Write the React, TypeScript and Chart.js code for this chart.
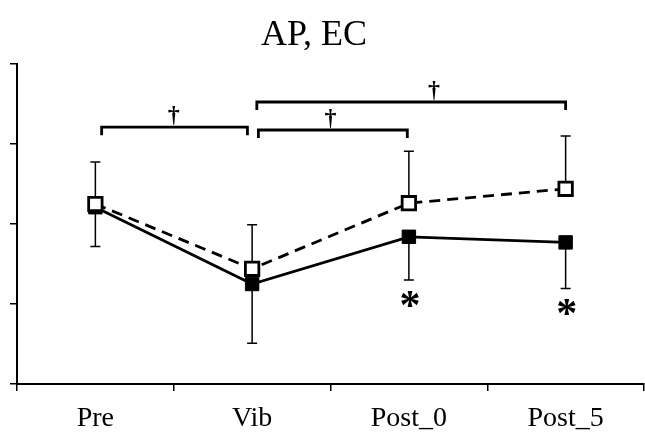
import React, { useEffect, useRef } from "react";
import { Chart, registerables } from "chart.js";

Chart.register(...registerables);

const categories = ["Pre", "Vib", "Post_0", "Post_5"];
const openValues = [2.25, 1.44, 2.26, 2.44];
const filledValues = [2.21, 1.25, 1.84, 1.77];
const openErrorUp = [0.525, 0.55, 0.65, 0.66];
const filledErrorDown = [0.49, 0.74, 0.54, 0.575];
const yTicks = [0, 1, 2, 3, 4];

// significance brackets (category units / value units)
const bracketStart = [0.04, 1.04, 1.03];
const bracketEnd = [0.97, 1.99, 3.0];
const bracketLevel = [3.21, 3.175, 3.525];
const bracketMarkAt = [0.5, 1.5, 2.16];
const bracketMark = ["†", "†", "†"];
const starCategories = [2, 3];
const titleText = "AP, EC";

const SERIF = "'Liberation Serif', 'Times New Roman', serif";

const annotationPlugin = {
  id: "annotations",
  beforeDatasetsDraw(chart: any) {
    const ctx = chart.ctx;
    const x = chart.scales.x;
    const y = chart.scales.y;
    ctx.save();
    ctx.strokeStyle = "#000";
    ctx.lineWidth = 1.5;
    for (let i = 0; i < categories.length; i++) {
      const px = x.getPixelForValue(i);
      const top = y.getPixelForValue(openValues[i] + openErrorUp[i]);
      const oy = y.getPixelForValue(openValues[i]);
      const bot = y.getPixelForValue(filledValues[i] - filledErrorDown[i]);
      const fy = y.getPixelForValue(filledValues[i]);
      ctx.beginPath();
      ctx.moveTo(px, oy);
      ctx.lineTo(px, top);
      ctx.moveTo(px - 5, top);
      ctx.lineTo(px + 5, top);
      ctx.moveTo(px, fy);
      ctx.lineTo(px, bot);
      ctx.moveTo(px - 5, bot);
      ctx.lineTo(px + 5, bot);
      ctx.stroke();
    }
    ctx.restore();
  },
  afterDraw(chart: any) {
    const ctx = chart.ctx;
    const x = chart.scales.x;
    const y = chart.scales.y;
    const catPx = (v: number) => {
      const i = Math.floor(v);
      const f = v - i;
      const a = x.getPixelForValue(Math.min(i, categories.length - 1));
      const b = x.getPixelForValue(Math.min(i + 1, categories.length - 1));
      return i + 1 < categories.length ? a + (b - a) * f : a;
    };
    ctx.save();
    ctx.strokeStyle = "#000";
    ctx.fillStyle = "#000";
    ctx.lineWidth = 2.8;
    for (let i = 0; i < bracketStart.length; i++) {
      const x1 = catPx(bracketStart[i]);
      const x2 = catPx(bracketEnd[i]);
      const by = y.getPixelForValue(bracketLevel[i]);
      ctx.beginPath();
      ctx.moveTo(x1, by + 8);
      ctx.lineTo(x1, by);
      ctx.lineTo(x2, by);
      ctx.lineTo(x2, by + 8);
      ctx.stroke();
      ctx.font = `bold 24px ${SERIF}`;
      ctx.textAlign = "center";
      ctx.textBaseline = "alphabetic";
      ctx.fillText(bracketMark[i], catPx(bracketMarkAt[i]), by - 5);
    }
    ctx.font = `bold 42px ${SERIF}`;
    ctx.textAlign = "center";
    ctx.textBaseline = "alphabetic";
    for (const c of starCategories) {
      const px = x.getPixelForValue(c);
      const bot = y.getPixelForValue(filledValues[c] - filledErrorDown[c]);
      ctx.fillText("*", px + 1, bot + 39);
    }
    ctx.font = `36px ${SERIF}`;
    ctx.fillText(titleText, 314, 45);
    ctx.restore();
  },
};

export default function App() {
  const ref = useRef<HTMLCanvasElement | null>(null);
  useEffect(() => {
    if (!ref.current) return;
    const chart = new Chart(ref.current, {
      type: "line",
      data: {
        labels: categories,
        datasets: [
          {
            label: "open",
            data: openValues,
            borderColor: "#000",
            borderWidth: 2.8,
            borderDash: [11, 7],
            pointStyle: "rect",
            pointRadius: 9.5,
            pointBackgroundColor: "#fff",
            pointBorderColor: "#000",
            pointBorderWidth: 2.8,
            tension: 0,
          },
          {
            label: "filled",
            data: filledValues,
            borderColor: "#000",
            borderWidth: 2.8,
            pointStyle: "rect",
            pointRadius: 9.5,
            pointBackgroundColor: "#000",
            pointBorderColor: "#000",
            pointBorderWidth: 1,
            tension: 0,
          },
        ],
      },
      options: {
        animation: false,
        responsive: true,
        maintainAspectRatio: false,
        layout: { autoPadding: false, padding: { top: 64, left: 0, right: 1, bottom: 0 } },
        plugins: {
          legend: { display: false },
          title: { display: false },
          tooltip: { enabled: false },
        },
        scales: {
          x: {
            type: "category",
            offset: true,
            grid: {
              offset: true,
              drawOnChartArea: false,
              drawTicks: true,
              tickLength: 7,
              color: "#000",
              lineWidth: 1.5,
            },
            border: { color: "#000", width: 2 },
            ticks: {
              color: "#000",
              font: { family: SERIF, size: 28 },
              padding: 11,
              maxRotation: 0,
            },
            afterFit: (s: any) => {
              s.height = 52;
              s.paddingLeft = 0;
              s.paddingRight = 0;
            },
          },
          y: {
            min: 0,
            max: 4,
            afterBuildTicks: (s: any) => {
              s.ticks = yTicks.map((v) => ({ value: v }));
            },
            grid: {
              drawOnChartArea: false,
              drawTicks: true,
              tickLength: 7,
              color: "#000",
              lineWidth: 1.5,
            },
            border: { color: "#000", width: 2 },
            ticks: { display: false },
            afterFit: (s: any) => {
              s.width = 17;
              s.paddingTop = 0;
              s.paddingBottom = 0;
            },
          },
        },
      },
      plugins: [annotationPlugin],
    });
    return () => chart.destroy();
  }, []);
  return (
    <div style={{ position: "fixed", left: 0, top: 0, width: 645, height: 436 }}>
      <canvas ref={ref} />
    </div>
  );
}
